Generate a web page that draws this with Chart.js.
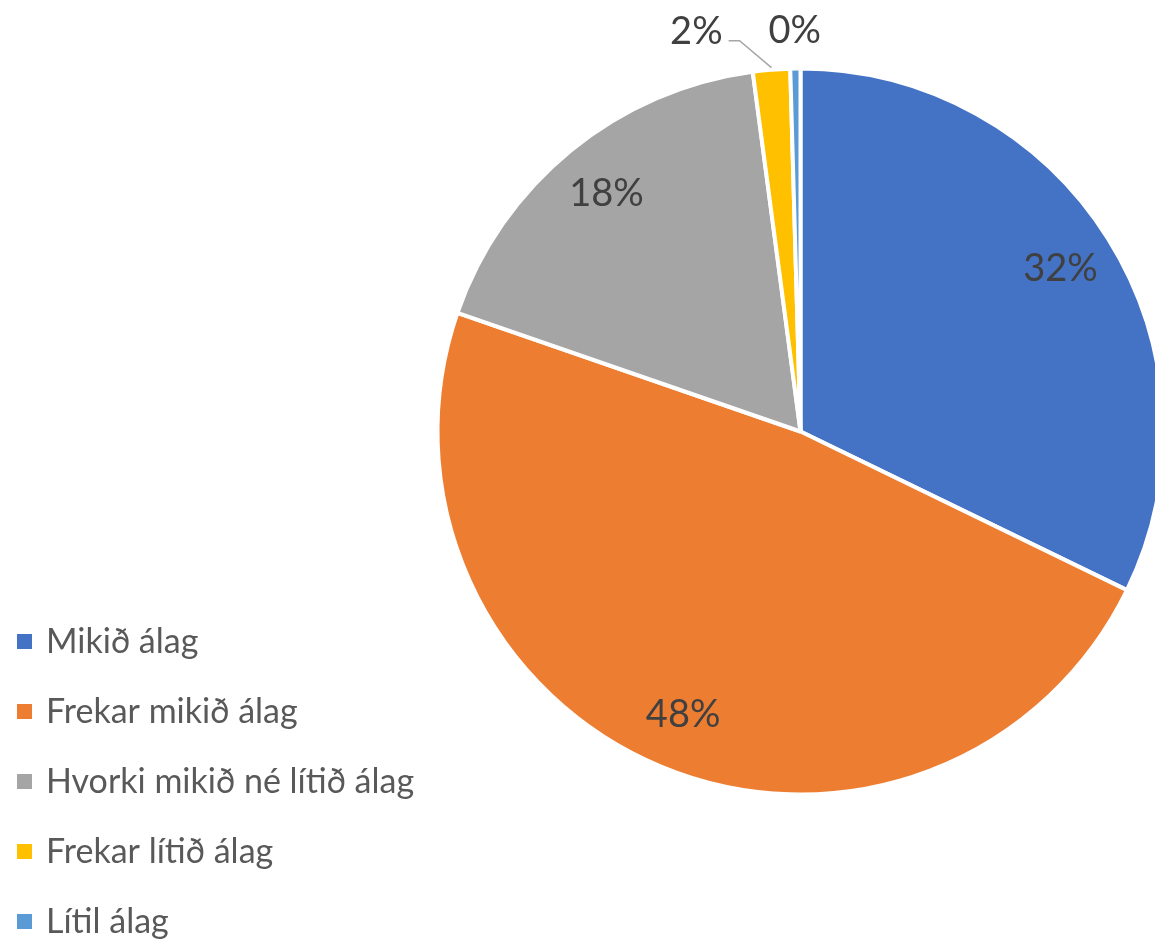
<!DOCTYPE html>
<html>
<head>
<meta charset="utf-8">
<script src="https://cdn.jsdelivr.net/npm/chart.js@4"></script>
<style>
  html, body { margin: 0; padding: 0; background: #fff; overflow: hidden; }
  #wrap { width: 1155px; height: 942px; overflow: hidden; position: relative; }
  #box { width: 1200px; height: 942px; position: absolute; left: 0; top: 0; }
</style>
</head>
<body>
<div id="wrap"><div id="box"><canvas id="c"></canvas></div></div>
<script>
// Share of respondents by perceived workload
const categories = [
  'Mikið álag',
  'Frekar mikið álag',
  'Hvorki mikið né lítið álag',
  'Frekar lítið álag',
  'Lítil álag'
];
const shares = [32.2, 48.1, 17.6, 1.65, 0.45];
const sliceColors = ['#4472C4', '#ED7D31', '#A5A5A5', '#FFC000', '#5B9BD5'];

const FONT = 'Lato, "Open Sans", sans-serif';
const LABEL_COLOR = '#404040';
const LEGEND_COLOR = '#595959';

function pctText(i) {
  const total = shares.reduce((a, b) => a + b, 0);
  return Math.round(shares[i] / total * 100) + '%';
}

// Percentage labels: inside for large slices, above the pie with leaders for thin ones
const sliceLabels = {
  id: 'sliceLabels',
  afterDatasetsDraw(chart) {
    const ctx = chart.ctx;
    const arcs = chart.getDatasetMeta(0).data;
    ctx.save();
    ctx.font = '38px ' + FONT;
    ctx.fillStyle = LABEL_COLOR;
    ctx.textBaseline = 'middle';
    ctx.textAlign = 'center';
    const outside = [];
    arcs.forEach((arc, i) => {
      const { x, y, startAngle, endAngle, outerRadius } = arc.getProps(['x', 'y', 'startAngle', 'endAngle', 'outerRadius'], true);
      const mid = (startAngle + endAngle) / 2;
      const frac = (endAngle - startAngle) / (2 * Math.PI);
      if (frac > 0.05) {
        const r = outerRadius * 0.845;
        ctx.fillText(pctText(i), x + Math.cos(mid) * r, y + Math.sin(mid) * r);
      } else {
        outside.push({ i, x, y, mid, outerRadius });
      }
    });
    // place outside labels from the last slice backwards, shifting left on overlap
    let limit = Infinity;
    for (let k = outside.length - 1; k >= 0; k--) {
      const o = outside[k];
      const text = pctText(o.i);
      const w = ctx.measureText(text).width;
      const r = o.outerRadius + 38;
      let cx = o.x + Math.cos(o.mid) * r;
      const cy = o.y + Math.sin(o.mid) * r;
      let shifted = false;
      if (cx + w / 2 > limit) {
        cx = limit - w / 2;
        shifted = true;
      }
      ctx.fillText(text, cx, cy);
      if (shifted) {
        const ax = o.x + Math.cos(o.mid) * o.outerRadius;
        const ay = o.y + Math.sin(o.mid) * o.outerRadius;
        const sx = cx + w / 2 + 6;
        const sy = cy + 9;
        ctx.beginPath();
        ctx.strokeStyle = '#A6A6A6';
        ctx.lineWidth = 1.5;
        ctx.moveTo(sx, sy);
        ctx.lineTo(sx + 11, sy);
        ctx.lineTo(ax, ay - 2);
        ctx.stroke();
      }
      limit = cx - w / 2 - 46;
    }
    ctx.restore();
  }
};

// Legend stacked in the lower left corner
const sideLegend = {
  id: 'sideLegend',
  afterDraw(chart) {
    const ctx = chart.ctx;
    ctx.save();
    ctx.font = '34px ' + FONT;
    ctx.textBaseline = 'middle';
    ctx.textAlign = 'left';
    chart.data.labels.forEach((lab, i) => {
      const cy = 642 + i * 70;
      ctx.fillStyle = chart.data.datasets[0].backgroundColor[i];
      ctx.fillRect(17, cy - 8, 15, 15);
      ctx.fillStyle = LEGEND_COLOR;
      ctx.fillText(lab, 46, cy);
    });
    ctx.restore();
  }
};

new Chart(document.getElementById('c'), {
  type: 'pie',
  data: {
    labels: categories,
    datasets: [{
      data: shares,
      backgroundColor: sliceColors,
      borderColor: '#FFFFFF',
      borderWidth: 4,
      radius: 363
    }]
  },
  options: {
    responsive: true,
    maintainAspectRatio: false,
    animation: false,
    layout: { padding: { left: 437, right: 36, top: 68, bottom: 147 } },
    plugins: {
      legend: { display: false },
      tooltip: { enabled: false }
    }
  },
  plugins: [sliceLabels, sideLegend]
});
</script>
</body>
</html>
